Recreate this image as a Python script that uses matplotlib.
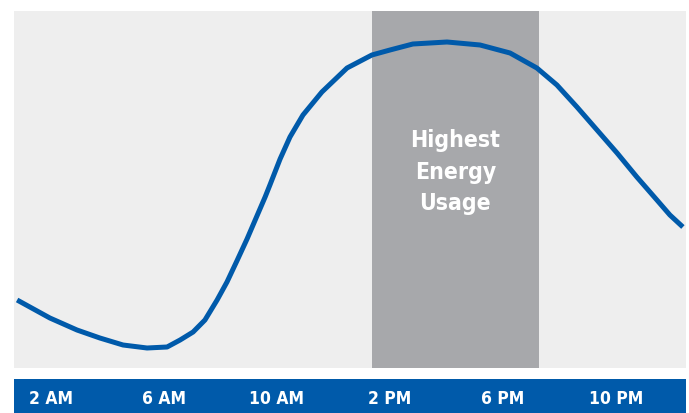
import matplotlib.pyplot as plt

# hour of day vs. relative energy usage
hours = [0.80, 1.96, 2.92, 3.73, 4.55, 5.40, 6.11, 6.57, 7.03, 7.45, 7.88,
         8.23, 8.58, 8.94, 9.29, 9.58, 9.75, 9.93, 10.11, 10.46, 10.92,
         11.59, 12.48, 13.36, 14.00, 14.81, 16.02, 17.19, 18.25, 19.20,
         19.91, 20.62, 21.33, 22.04, 22.74, 23.45, 23.91, 24.37]
usage = [68, 50, 38, 30, 23, 20, 21, 28, 36, 48, 68,
         86, 107, 129, 152, 171, 183, 196, 209, 231, 253,
         276, 300, 313, 318, 324, 326, 323, 315, 300,
         283, 261, 238, 215, 191, 168, 153, 141]

peak_start, peak_end = 13.36, 19.27
tick_hours = [2, 6, 10, 14, 18, 22]
tick_labels = ["2 AM", "6 AM", "10 AM", "2 PM", "6 PM", "10 PM"]

blue = "#005aaa"


def bare(a):
    a.set_xticks([])
    a.set_yticks([])
    for s in a.spines.values():
        s.set_visible(False)


fig = plt.figure(figsize=(6.89, 4.13), dpi=100)
ax = fig.add_axes([14 / 689, 1 - 368 / 413, 672 / 689, 357 / 413])
ax.set_facecolor("#eeeeee")
ax.axvspan(peak_start, peak_end, color="#a7a8ab", lw=0)
ax.plot(hours, usage, color=blue, lw=3.6, solid_capstyle="butt",
        solid_joinstyle="round")
ax.set_xlim(0.69, 24.48)
ax.set_ylim(0, 357)
bare(ax)
ax.text((peak_start + peak_end) / 2, 196, "Highest\nEnergy\nUsage", color="white",
        ha="center", va="center", fontsize=16.5, fontweight="bold",
        fontstretch="condensed", linespacing=1.45)

# blue time strip at the bottom
bar = fig.add_axes([14 / 689, 0, 672 / 689, 34 / 413])
bar.set_facecolor(blue)
bar.set_xlim(0.69, 24.48)
bar.set_ylim(0, 1)
bare(bar)
for h, lab in zip(tick_hours, tick_labels):
    bar.text(h, 0.41, lab, color="white", ha="center", va="center",
             fontsize=12.5, fontweight="bold", fontstretch="condensed")

fig.savefig("out.png", dpi=100)
